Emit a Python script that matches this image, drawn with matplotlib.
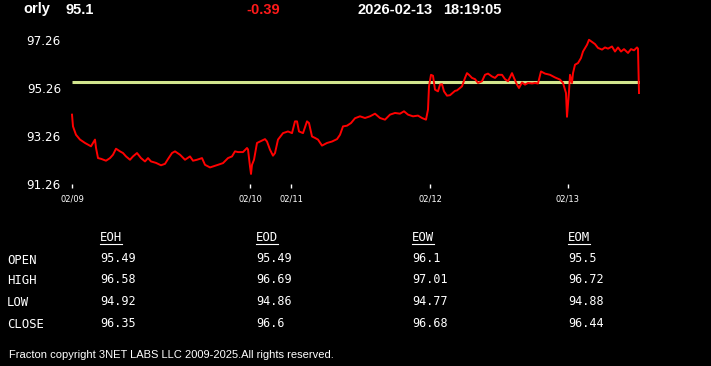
import matplotlib
matplotlib.use("Agg")
import matplotlib.pyplot as plt
from matplotlib.lines import Line2D

# header
symbol = "orly"
last_price = "95.1"
change = "-0.39"
stamp_date = "2026-02-13"
stamp_time = "18:19:05"

# intraday series (bar number, price)
bars = [0, 1, 4, 8, 13, 16, 19, 23, 24, 26, 29, 34, 38, 41, 44, 48, 51, 54, 58, 61,
        65, 69, 73, 76, 79, 84, 89, 93, 96, 100, 103, 108, 113, 118, 121, 125, 130, 133, 138, 141,
        146, 151, 156, 160, 163, 166, 171, 175, 176, 178, 179, 180, 182, 185, 188, 193, 195, 198, 201, 203,
        206, 211, 216, 220, 223, 225, 227, 231, 235, 237, 240, 243, 246, 250, 255, 260, 265, 268, 271, 275,
        279, 283, 288, 293, 298, 303, 308, 313, 318, 323, 328, 332, 336, 341, 346, 350, 354, 356, 357, 359,
        361, 363, 366, 368, 370, 372, 375, 378, 383, 385, 390, 393, 395, 397, 400, 403, 406, 410, 413, 416,
        420, 423, 426, 430, 433, 436, 440, 442, 445, 447, 450, 453, 456, 460, 463, 466, 469, 473, 478, 483,
        488, 491, 494, 495, 497, 498, 500, 501, 503, 506, 509, 511, 515, 517, 520, 523, 526, 530, 533, 536,
        540, 543, 546, 549, 552, 556, 559, 562, 565, 566, 567]
prices = [94.15, 93.66, 93.31, 93.11, 92.97, 92.90, 92.83, 93.11, 92.77, 92.34, 92.31, 92.23, 92.34, 92.48, 92.73, 92.62, 92.55, 92.41, 92.27, 92.41,
          92.55, 92.34, 92.20, 92.34, 92.20, 92.14, 92.04, 92.10, 92.30, 92.55, 92.62, 92.48, 92.27, 92.41, 92.23, 92.27, 92.34, 92.06, 91.95, 91.99,
          92.06, 92.13, 92.34, 92.41, 92.62, 92.59, 92.59, 92.76, 92.70, 91.99, 91.68, 92.06, 92.27, 92.97, 93.03, 93.13, 93.03, 92.69, 92.44, 92.55,
          93.11, 93.38, 93.45, 93.38, 93.87, 93.87, 93.45, 93.38, 93.87, 93.80, 93.24, 93.18, 93.11, 92.86, 92.97, 93.03, 93.13, 93.31, 93.66, 93.69,
          93.80, 94.00, 94.08, 94.01, 94.08, 94.19, 94.01, 93.94, 94.15, 94.22, 94.19, 94.29, 94.15, 94.08, 94.11, 94.01, 93.94, 94.36, 95.33, 95.81,
          95.77, 95.19, 95.12, 95.40, 95.42, 95.12, 94.94, 94.96, 95.14, 95.16, 95.33, 95.68, 95.88, 95.81, 95.68, 95.63, 95.47, 95.54, 95.81, 95.86,
          95.74, 95.68, 95.81, 95.81, 95.63, 95.54, 95.88, 95.68, 95.40, 95.26, 95.49, 95.40, 95.47, 95.45, 95.47, 95.45, 95.95, 95.86, 95.81, 95.70,
          95.61, 95.47, 95.05, 94.06, 95.12, 95.81, 95.47, 95.88, 96.23, 96.30, 96.51, 96.78, 97.06, 97.27, 97.18, 97.09, 96.93, 96.86, 96.95, 96.90,
          96.99, 96.78, 96.95, 96.78, 96.88, 96.72, 96.88, 96.83, 96.95, 96.90, 95.05]
open_level = 95.49

day_bars = [0, 178, 219, 358, 496]
day_labels = ["02/09", "02/10", "02/11", "02/12", "02/13"]
y_ticks = [91.26, 93.26, 95.26, 97.26]

# summary table
periods = ["EOH", "EOD", "EOW", "EOM"]
rows = ["OPEN", "HIGH", "LOW", "CLOSE"]
opens = ["95.49", "95.49", "96.1", "95.5"]
highs = ["96.58", "96.69", "97.01", "96.72"]
lows = ["94.92", "94.86", "94.77", "94.88"]
closes = ["96.35", "96.6", "96.68", "96.44"]

W, H = 711, 366
fig = plt.figure(figsize=(W / 100, H / 100), dpi=100, facecolor="black")

def fx(px):
    return px / W

def fy(py):
    return 1 - py / H

ax = fig.add_axes([fx(72), fy(184), (640 - 72) / W, (184 - 40) / H])
ax.set_facecolor("black")
ax.plot(bars, prices, color="#ff0000", lw=1.4, clip_on=False, zorder=3)
ax.hlines(open_level, 0, 568, color="#d2e58e", lw=2.2, zorder=2)
ax.set_xlim(0, 568)
ax.set_ylim(91.26, 97.26)
for s in ax.spines.values():
    s.set_visible(False)
ax.set_yticks(y_ticks, [f"{v:.2f}" for v in y_ticks])
ax.set_xticks(day_bars, day_labels)
ax.tick_params(axis="y", length=0, pad=8, colors="white", labelsize=8.6)
ax.tick_params(axis="x", length=3, width=1, pad=4.3, colors="white", labelsize=6)

# header line
hdr = dict(color="white", fontsize=10.5, fontweight="bold", family="Liberation Sans", va="center")
fig.text(fx(23), fy(9.5), symbol, **hdr)
fig.text(fx(66), fy(9.5), last_price, **hdr)
fig.text(fx(246), fy(9.5), change, **{**hdr, "color": "#ff1a1a"})
fig.text(fx(358), fy(9.5), stamp_date, **hdr)
fig.text(fx(443), fy(9.5), stamp_time, **hdr)

# table
col_x = [100, 256, 412, 568]
row_y = [260, 281, 303, 325]
mono = dict(color="white", family="DejaVu Sans Mono", va="center")
for x, p in zip(col_x, periods):
    fig.text(fx(x), fy(238), p, fontsize=8.8, **mono)
    fig.add_artist(Line2D([fx(x), fx(x + 22)], [fy(243.5), fy(243.5)], color="white", lw=0.8))
for y, r in zip(row_y, rows):
    fig.text(fx(7), fy(y), r, fontsize=8.8, **mono)
for y, vals in zip(row_y, [opens, highs, lows, closes]):
    for x, v in zip(col_x, vals):
        fig.text(fx(x), fy(y - 1.5), v, fontsize=8.5, **mono)

fig.text(fx(9), fy(355), "Fracton copyright 3NET LABS LLC 2009-2025.All rights reserved.",
         color="white", fontsize=8, family="Liberation Sans", va="center")

fig.savefig("out.png", dpi=100, facecolor="black")
